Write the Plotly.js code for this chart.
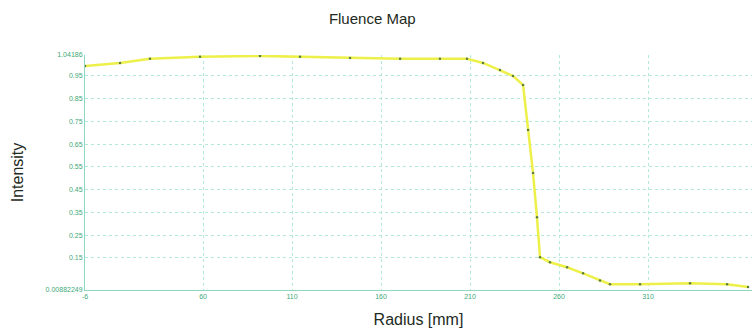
<!DOCTYPE html>
<html>
<head>
<meta charset="utf-8">
<script src="https://cdn.plot.ly/plotly-3.0.1.min.js"></script>
<style>html,body{margin:0;padding:0;background:#fff;}#chart{width:752px;height:335px;}</style>
</head>
<body>
<div id="chart"></div>
<script>
// Data
const radius = [-6.3, 13.4, 30.2, 58.3, 92.0, 114.5, 142.6, 170.7, 193.1, 208.3, 217.3, 226.8, 234.1, 239.8, 242.6, 245.4, 247.6, 249.3, 254.9, 264.5, 273.5, 283.0, 288.6, 305.5, 333.6, 354.4, 366.2];
const intensity = [0.994, 1.007, 1.025, 1.034, 1.038, 1.034, 1.029, 1.025, 1.025, 1.025, 1.007, 0.976, 0.950, 0.910, 0.712, 0.523, 0.329, 0.153, 0.131, 0.109, 0.082, 0.051, 0.034, 0.034, 0.038, 0.034, 0.022];
const xTickVals = [-6.3, 60, 110, 160, 210, 260, 310, 368];
const xTickText = ["-6", "60", "110", "160", "210", "260", "310", "368"];
const yTickVals = [0.00882249, 0.15, 0.25, 0.35, 0.45, 0.55, 0.65, 0.75, 0.85, 0.95, 1.04186];
const yTickText = ["0.00882249", "0.15", "0.25", "0.35", "0.45", "0.55", "0.65", "0.75", "0.85", "0.95", "1.04186"];

const tickFont = {family: "Liberation Sans Narrow, Liberation Sans, Arial", size: 7, color: "#3da878"};

Plotly.newPlot("chart", [{
  x: radius, y: intensity, type: "scatter", mode: "lines+markers",
  line: {color: "#eef04a", width: 2.5},
  marker: {color: "#5a7d40", size: 2.5},
  hoverinfo: "x+y"
}], {
  width: 752, height: 335,
  margin: {l: 85, r: 0, t: 55, b: 45},
  paper_bgcolor: "#ffffff", plot_bgcolor: "#ffffff",
  showlegend: false,
  title: {text: "Fluence Map", x: 0.495, xanchor: "center", y: 0.945, yanchor: "middle",
    font: {family: "Liberation Sans Narrow, Liberation Sans, Arial", size: 15, color: "#1e2a22"}},
  xaxis: {
    range: [-6.3, 368.4], tickmode: "array", tickvals: xTickVals, ticktext: xTickText,
    tickfont: tickFont, ticks: "", showline: true, linecolor: "#8ed8c0", linewidth: 1, mirror: false,
    showgrid: true, gridcolor: "#b4e8da", griddash: "dot", gridwidth: 1, zeroline: false,
    title: {text: "Radius [mm]", standoff: 14, font: {family: "Liberation Sans Narrow, Liberation Sans, Arial", size: 16, color: "#1e2a22"}},
    automargin: false
  },
  yaxis: {
    range: [0.00882249, 1.04186], tickmode: "array", tickvals: yTickVals, ticktext: yTickText,
    tickfont: tickFont, ticks: "", showline: true, linecolor: "#8ed8c0", linewidth: 1,
    showgrid: true, gridcolor: "#b4e8da", griddash: "dot", gridwidth: 1, zeroline: false,
    title: {text: "Intensity", standoff: 18, font: {family: "Liberation Sans, Arial", size: 16, color: "#1e2a22"}},
    automargin: false
  }
}, {displayModeBar: false, staticPlot: true});
</script>
</body>
</html>
